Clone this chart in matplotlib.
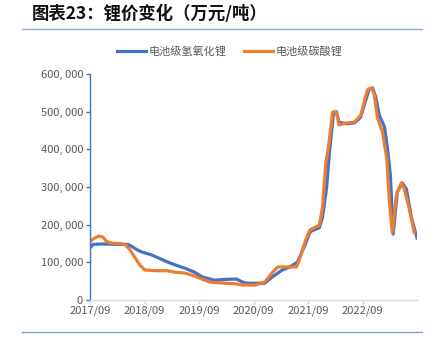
import pandas as pd
import matplotlib
matplotlib.use('Agg')
import matplotlib.pyplot as plt
from matplotlib.ticker import FuncFormatter
from matplotlib.lines import Line2D

plt.rcParams['font.family'] = ['Noto Sans CJK SC', 'DejaVu Sans']

# 电池级氢氧化锂 (元/吨)
hydroxide_dates = ['2017-09-06', '2017-09-21', '2017-12-01', '2018-03-01', '2018-05-12',
                   '2018-06-06', '2018-07-15', '2018-08-12', '2018-10-18', '2019-02-03',
                   '2019-03-21', '2019-05-27', '2019-08-03', '2019-09-25', '2019-12-15',
                   '2020-02-21', '2020-05-09', '2020-06-18', '2020-07-15', '2020-09-09',
                   '2020-11-15', '2021-01-01', '2021-03-12', '2021-05-01', '2021-06-21',
                   '2021-08-15', '2021-09-12', '2021-10-01', '2021-11-15', '2021-12-06',
                   '2022-01-03', '2022-01-21', '2022-02-18', '2022-03-09', '2022-03-27',
                   '2022-05-15', '2022-07-07', '2022-08-18', '2022-09-21', '2022-10-15',
                   '2022-11-06', '2022-11-27', '2022-12-21', '2023-01-25', '2023-02-15',
                   '2023-03-06', '2023-03-24', '2023-04-21', '2023-05-24', '2023-06-21',
                   '2023-07-24', '2023-08-31']
hydroxide_values = [141000, 148000, 149000, 148000, 148000,
                    143000, 133000, 128000, 120000, 101000,
                    94000, 85000, 74000, 61000, 53000,
                    55000, 56000, 48000, 45000, 45000,
                    45000, 61000, 80000, 88000, 101000,
                    150000, 180000, 185000, 192000, 220000,
                    300000, 390000, 496000, 500000, 472000,
                    468000, 470000, 485000, 530000, 560000,
                    563000, 540000, 491000, 460000, 400000,
                    330000, 175000, 287000, 311000, 295000,
                    220000, 165000]

# 电池级碳酸锂 (元/吨)
carbonate_dates = ['2017-09-06', '2017-10-03', '2017-11-01', '2017-11-27', '2017-12-22',
                   '2018-01-25', '2018-04-01', '2018-04-27', '2018-05-24', '2018-06-27',
                   '2018-08-01', '2018-09-03', '2018-11-15', '2019-02-03', '2019-03-21',
                   '2019-05-27', '2019-08-03', '2019-09-25', '2019-11-12', '2020-02-21',
                   '2020-05-09', '2020-06-18', '2020-09-09', '2020-11-15', '2021-01-01',
                   '2021-02-09', '2021-06-15', '2021-07-06', '2021-08-15', '2021-09-12',
                   '2021-11-15', '2021-12-06', '2021-12-28', '2022-01-15', '2022-02-12',
                   '2022-03-09', '2022-03-27', '2022-05-15', '2022-07-07', '2022-08-18',
                   '2022-09-01', '2022-10-03', '2022-11-01', '2022-11-18', '2022-12-09',
                   '2023-01-12', '2023-02-09', '2023-02-27', '2023-03-18', '2023-04-15',
                   '2023-05-18', '2023-06-06', '2023-07-09', '2023-08-12']
carbonate_values = [157000, 165000, 170000, 167000, 155000,
                    151000, 150000, 146000, 135000, 114000,
                    93000, 80000, 78000, 78000, 74000,
                    72000, 64000, 55000, 48000, 45000,
                    43000, 40000, 40000, 48000, 72000,
                    88000, 88000, 110000, 159000, 186000,
                    199000, 247000, 364000, 406000, 499000,
                    500000, 465000, 470000, 472000, 490000,
                    510000, 558000, 563000, 544000, 483000,
                    446000, 377000, 260000, 180000, 279000,
                    311000, 297000, 244000, 180000]

tick_labels = ['2017/09', '2018/09', '2019/09', '2020/09', '2021/09', '2022/09']

BLUE = '#4472C4'
ORANGE = '#ED7D31'
GREY = '#595959'

fig = plt.figure(figsize=(4.35, 3.49), dpi=100)
ax = fig.add_axes([0.207, 0.140, 0.752, 0.648])

ax.plot(pd.to_datetime(hydroxide_dates), hydroxide_values, color=BLUE, lw=2.3,
        solid_joinstyle='round', label='电池级氢氧化锂')
ax.plot(pd.to_datetime(carbonate_dates), carbonate_values, color=ORANGE, lw=2.3,
        solid_joinstyle='round', label='电池级碳酸锂')

ax.set_xlim(pd.Timestamp('2017-09-01'), pd.Timestamp('2023-09-01'))
ax.set_ylim(0, 600000)
ax.set_yticks(range(0, 600001, 100000))
ax.yaxis.set_major_formatter(FuncFormatter(lambda v, p: '{:,}'.format(int(v)).replace(',', ', ')))
ax.set_xticks(pd.to_datetime([t.replace('/', '-') + '-01' for t in tick_labels]))
ax.set_xticklabels(tick_labels)

for s in ['top', 'right']:
    ax.spines[s].set_visible(False)
ax.spines['left'].set_color(BLUE)
ax.spines['left'].set_linewidth(1.0)
ax.spines['bottom'].set_color('#D9D9D9')
ax.spines['bottom'].set_linewidth(1.0)
ax.tick_params(axis='y', colors=BLUE, length=3, width=1, labelcolor=GREY, labelsize=8, pad=2)
ax.tick_params(axis='x', colors='#D9D9D9', length=3, width=1, labelcolor=GREY, labelsize=8, pad=1)

handles = [Line2D([], [], color=BLUE, lw=2.3), Line2D([], [], color=ORANGE, lw=2.3)]
leg = fig.legend(handles, ['电池级氢氧化锂', '电池级碳酸锂'], loc='center',
                 bbox_to_anchor=(0.528, 0.853), ncol=2, frameon=False, fontsize=8,
                 handlelength=2.6, handletextpad=0.2, columnspacing=1.6)
for t in leg.get_texts():
    t.set_color(GREY)

fig.text(0.074, 0.96, '图表23：锂价变化（万元/吨）', fontsize=12.5, fontweight='bold',
         fontstyle='italic', va='center', ha='left', color='#111111')
fig.add_artist(Line2D([0.051, 0.970], [0.917, 0.917], color='#8FAADC', lw=1.0))
fig.add_artist(Line2D([0.051, 0.970], [0.049, 0.049], color='#7F9FD4', lw=1.0))

fig.savefig('out.png', dpi=100)
